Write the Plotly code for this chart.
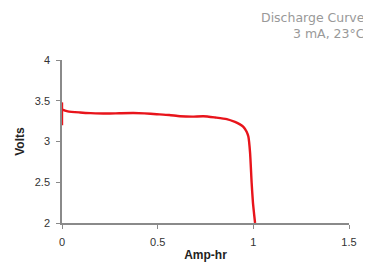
import plotly.graph_objects as go

amp_hr = [0.0, 0.0, 0.0, 0.005, 0.03, 0.094, 0.15, 0.233, 0.3, 0.373, 0.43, 0.495, 0.56, 0.617, 0.68, 0.739, 0.8, 0.861, 0.904, 0.93, 0.948, 0.965, 0.974, 0.983, 0.991, 0.998, 1.004, 1.009]
volts = [3.2, 3.48, 3.40, 3.39, 3.37, 3.356, 3.348, 3.343, 3.347, 3.35, 3.345, 3.335, 3.325, 3.31, 3.305, 3.31, 3.295, 3.275, 3.24, 3.21, 3.18, 3.12, 3.06, 2.86, 2.5, 2.25, 2.11, 2.0]

x_ticks = [0, 0.5, 1, 1.5]
x_labels = ["0", "0.5", "1", "1.5"]
y_ticks = [2, 2.5, 3, 3.5, 4]
y_labels = ["2", "2.5", "3", "3.5", "4"]

fig = go.Figure()
fig.add_trace(go.Scatter(x=amp_hr, y=volts, mode="lines",
                         line=dict(color="#e8141b", width=2.4, shape="spline", smoothing=0.6),
                         hoverinfo="skip", showlegend=False))

axis_common = dict(showgrid=False, zeroline=False, showline=True, linecolor="#8a8a8a", linewidth=1.5,
                   ticks="outside", ticklen=4, tickcolor="#8a8a8a", tickwidth=1.2, automargin=False,
                   tickfont=dict(family="Liberation Sans, Arial", size=11, color="#333333"))

# page body has an 8px margin; size the figure so it fits the 371x275 window
fig.update_layout(
    width=363, height=267,
    margin=dict(l=54, r=22, t=52, b=52, autoexpand=False),
    paper_bgcolor="white", plot_bgcolor="white",
    xaxis=dict(range=[0, 1.5], tickvals=x_ticks, ticktext=x_labels, ticklabelstandoff=4,
               title=dict(text="<b>Amp-hr</b>", font=dict(family="Liberation Sans, Arial", size=12, color="#222222"), standoff=4),
               **axis_common),
    yaxis=dict(range=[2, 4], tickvals=y_ticks, ticktext=y_labels, ticklabelstandoff=4,
               title=dict(text="<b>Volts</b>", font=dict(family="Liberation Sans, Arial", size=12, color="#222222"), standoff=8),
               **axis_common),
    annotations=[dict(text="Discharge Curve<br>3 mA, 23°C", xref="paper", yref="paper",
                      x=(359 - 54) / 287, y=1.0, xanchor="right", yanchor="bottom", yshift=17, align="right", showarrow=False,
                      font=dict(family="DejaVu Sans", size=12.5, color="#999999"))],
)

fig.write_html("out.html")
